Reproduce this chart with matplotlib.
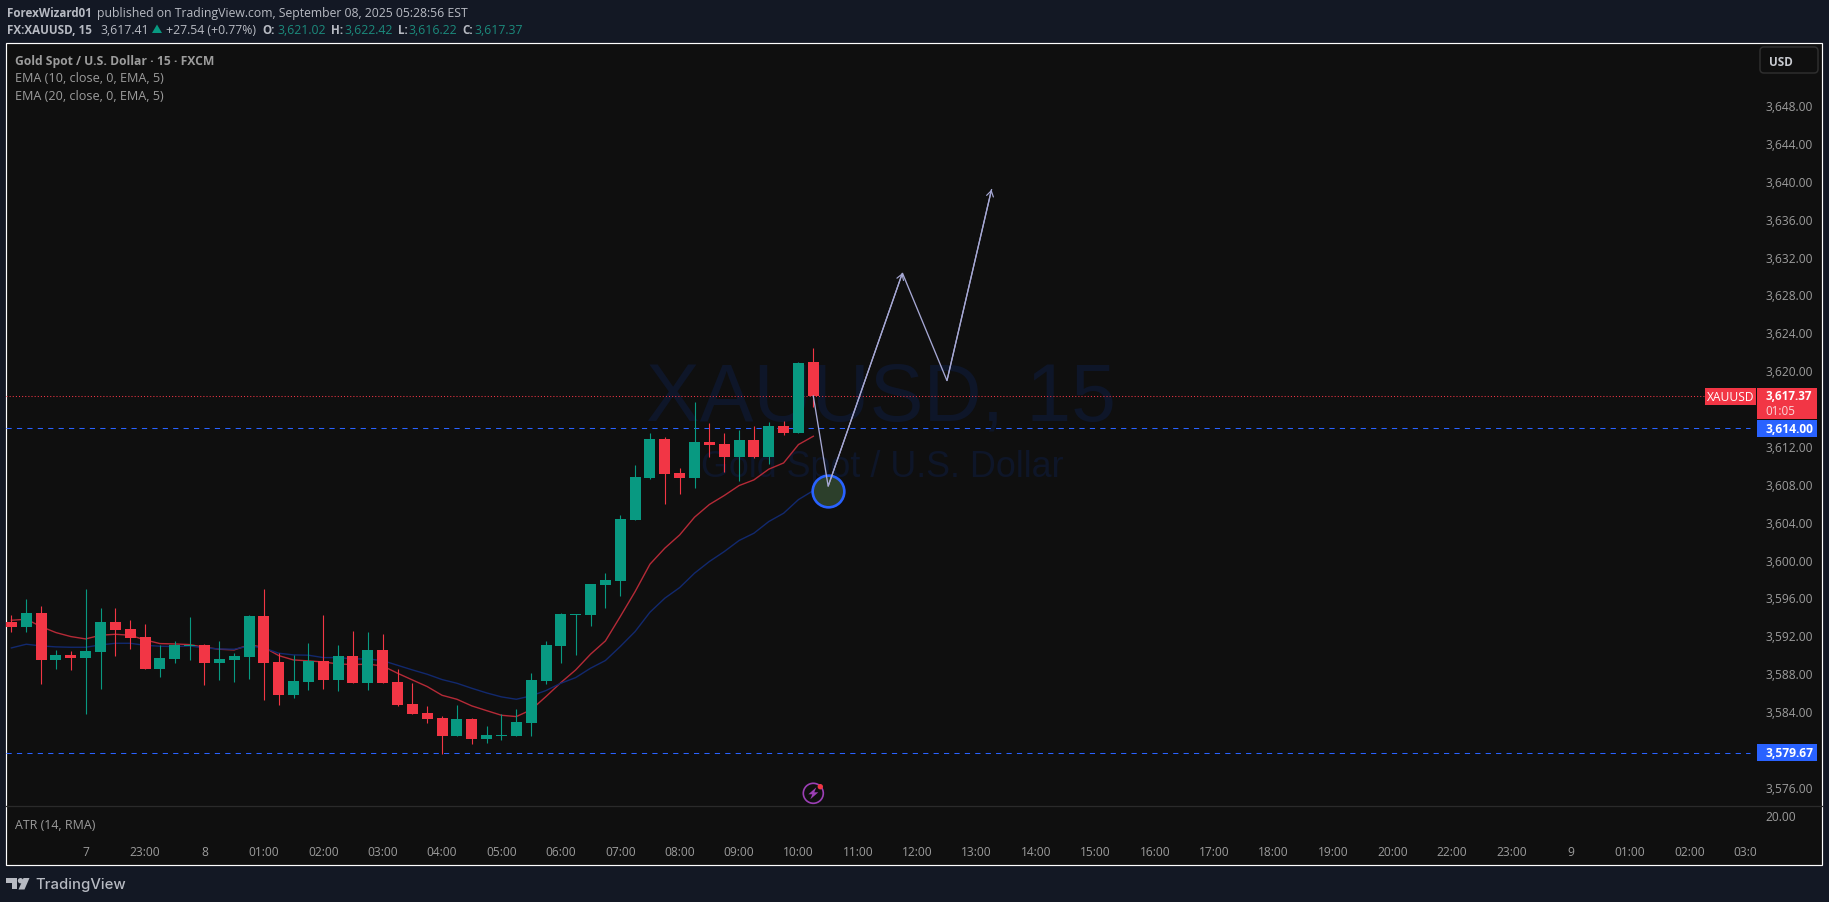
import numpy as np
from matplotlib import pyplot as plt
from matplotlib.patches import Rectangle, FancyBboxPatch, Circle, Polygon
from matplotlib.transforms import ScaledTranslation

W, H = 1829, 903

# candle data
opens = [3593.52, 3593.00, 3594.47, 3589.51, 3590.04, 3589.72, 3590.36, 3593.52, 3592.79, 3591.94,
         3588.56, 3589.62, 3590.99, 3591.10, 3589.20, 3589.51, 3589.83, 3594.16, 3589.30, 3585.82,
         3587.19, 3589.41, 3587.40, 3589.94, 3587.08, 3590.57, 3587.19, 3584.87, 3583.92, 3583.39,
         3581.49, 3583.28, 3581.17, 3581.49, 3581.49, 3582.87, 3587.30, 3591.00, 3594.27, 3594.27,
         3597.44, 3597.86, 3604.30, 3608.73, 3612.85, 3609.26, 3608.73, 3612.53, 3612.32, 3610.95,
         3612.74, 3610.95, 3614.22, 3613.48, 3621.02]
highs = [3594.26, 3595.95, 3595.21, 3590.57, 3590.46, 3597.01, 3595.00, 3595.00, 3593.74, 3593.31,
         3591.10, 3591.52, 3594.05, 3591.20, 3591.52, 3590.25, 3594.26, 3597.01, 3590.25, 3590.04,
         3591.31, 3594.26, 3591.10, 3592.57, 3592.47, 3592.26, 3588.56, 3587.08, 3584.66, 3583.60,
         3584.76, 3583.39, 3582.55, 3583.81, 3584.34, 3588.15, 3591.52, 3594.48, 3594.37, 3597.54,
         3598.70, 3604.83, 3610.10, 3613.48, 3613.06, 3609.79, 3616.75, 3614.54, 3613.48, 3613.80,
         3614.22, 3614.64, 3614.75, 3620.98, 3622.42]
lows = [3592.47, 3592.47, 3586.98, 3588.56, 3588.46, 3583.81, 3586.45, 3589.94, 3590.67, 3588.56,
        3587.72, 3589.20, 3589.51, 3586.87, 3587.40, 3587.19, 3587.51, 3585.29, 3584.76, 3585.50,
        3586.35, 3586.45, 3586.24, 3587.08, 3586.35, 3587.08, 3584.66, 3583.81, 3582.86, 3579.59,
        3581.49, 3580.65, 3580.75, 3581.07, 3581.49, 3581.49, 3586.98, 3589.20, 3590.05, 3593.11,
        3595.01, 3596.27, 3604.30, 3608.63, 3605.99, 3607.04, 3607.68, 3610.95, 3609.36, 3608.41,
        3610.84, 3610.21, 3613.27, 3613.48, 3616.22]
closes = [3593.00, 3594.47, 3589.51, 3590.04, 3589.72, 3590.46, 3593.52, 3592.68, 3591.84, 3588.56,
          3589.72, 3591.10, 3591.10, 3589.20, 3589.62, 3589.94, 3594.16, 3589.20, 3585.82, 3587.30,
          3589.41, 3587.40, 3589.94, 3587.08, 3590.57, 3587.08, 3584.76, 3583.81, 3583.28, 3581.49,
          3583.28, 3581.17, 3581.60, 3581.60, 3582.97, 3587.41, 3591.10, 3594.37, 3594.37, 3597.54,
          3597.96, 3604.40, 3608.84, 3612.85, 3609.15, 3608.73, 3612.53, 3612.22, 3610.95, 3612.74,
          3610.95, 3614.22, 3613.48, 3620.87, 3617.37]

ema10 = [3593.70, 3593.81, 3593.03, 3592.40, 3591.98, 3591.73, 3592.12, 3592.22, 3592.12, 3591.62,
         3591.24, 3591.20, 3591.13, 3590.85, 3590.64, 3590.57, 3591.10, 3590.85, 3589.97, 3589.51,
         3589.41, 3589.30, 3589.09, 3589.02, 3589.06, 3588.88, 3588.11, 3587.40, 3586.70, 3585.78,
         3585.36, 3584.66, 3584.16, 3583.67, 3583.53, 3584.25, 3585.65, 3587.12, 3588.46, 3590.12,
         3591.52, 3594.09, 3596.73, 3599.62, 3601.31, 3602.71, 3604.58, 3605.92, 3606.87, 3607.92,
         3608.52, 3609.65, 3610.31, 3612.25, 3613.13]
ema20 = [3590.78, 3591.17, 3590.99, 3590.89, 3590.85, 3590.85, 3591.10, 3591.27, 3591.27, 3591.06,
         3590.96, 3590.92, 3590.99, 3590.78, 3590.67, 3590.64, 3590.99, 3590.78, 3590.22, 3590.04,
         3590.01, 3589.76, 3589.76, 3589.62, 3589.62, 3589.44, 3588.95, 3588.46, 3588.00, 3587.44,
         3587.05, 3586.52, 3586.03, 3585.61, 3585.36, 3585.72, 3586.28, 3587.05, 3587.65, 3588.64,
         3589.45, 3590.93, 3592.51, 3594.55, 3596.03, 3597.15, 3598.67, 3599.90, 3600.95, 3602.12,
         3602.89, 3604.12, 3605.00, 3606.44, 3607.39]

# hand drawn projection on the chart
path_idx = [54, 55, 60, 63, 66]
path_price = [3617.38, 3607.85, 3630.36, 3619.00, 3639.16]
circle_idx = 55
circle_price = 3607.40

last_price = 3617.37
level_up = 3614.00
level_down = 3579.67

# 3,580 and 3,616 are covered by the level tags, the chart does not print them
price_ticks = [3576, 3584, 3588, 3592, 3596, 3600, 3604, 3608, 3612, 3620,
               3624, 3628, 3632, 3636, 3640, 3644, 3648]
time_idx = np.arange(5, 118, 4)
time_labels = ['7', '23:00', '8', '01:00', '02:00', '03:00', '04:00', '05:00', '06:00', '07:00',
               '08:00', '09:00', '10:00', '11:00', '12:00', '13:00', '14:00', '15:00', '16:00',
               '17:00', '18:00', '19:00', '20:00', '22:00', '23:00', '9', '01:00', '02:00', '03:00']

GREEN = '#089981'
RED = '#f23645'
BLUE = '#2962ff'
BG = '#131824'
PANE = '#0f0f0f'
GREY = '#9c9c9c'
FONT = 'Open Sans'

plt.rcParams['font.family'] = FONT


def pane_axes(x0, y0, x1, y1, z):
    # pixel box (y from the top) to an axes
    a = fig.add_axes([x0 / W, 1 - y1 / H, (x1 - x0) / W, (y1 - y0) / H], zorder=z)
    a.patch.set_visible(False)
    for s in a.spines.values():
        s.set_visible(False)
    return a


fig = plt.figure(figsize=(W / 100, H / 100), dpi=100, facecolor=BG)

# background layer in pixels: frame and watermark
back = pane_axes(0, 0, W, H, 0)
back.set_xlim(0, W)
back.set_ylim(H, 0)
back.axis('off')
back.add_patch(Rectangle((6, 43.5), 1816, 822.5, fc=PANE, ec='white', lw=0.85))
back.plot([6, 1822], [807, 807], color='#2a2a2a', lw=0.9)
back.text(881, 400, 'XAUUSD, 15', color='#0e1629', fontsize=58, family='Liberation Sans', ha='center', va='center')
back.text(882, 468, 'Gold Spot / U.S. Dollar', color='#0e1629', fontsize=25.8, family='Liberation Sans', ha='center', va='center')

# main price pane
ax = pane_axes(6, 43.5, 1756, 807, 1)
ax.set_xlim(-0.364, 117.48)
ax.set_ylim(3574.09, 3654.7)

x = np.arange(len(opens))
o = np.array(opens)
c = np.array(closes)
cols = [GREEN if c[i] >= o[i] else RED for i in x]

ax.plot(x, ema10, color='#b52a37', lw=1.0, zorder=2)
ax.plot(x, ema20, color='#12296e', lw=1.0, zorder=2)
ax.vlines(x, lows, highs, colors=cols, lw=0.8, zorder=3)
ax.bar(x, np.maximum(np.abs(c - o), 0.1), bottom=np.minimum(o, c), width=0.74, color=cols, lw=0, zorder=4)

ax.axhline(last_price, xmax=0.97, color=RED, lw=0.75, ls=(0, (1, 2)), zorder=1)
ax.axhline(level_up, xmax=0.9966, color=BLUE, lw=0.75, ls=(0, (5, 5)), zorder=1)
ax.axhline(level_down, xmax=0.9966, color=BLUE, lw=0.75, ls=(0, (5, 5)), zorder=1)

ax.scatter([circle_idx], [circle_price], s=520, facecolor='#2c3f2b', edgecolor=BLUE, lw=1.9, zorder=5)
ax.plot(path_idx, path_price, color='#a6a8d4', lw=0.95, zorder=6, solid_joinstyle='miter')
for k in [2, 4]:
    ax.annotate('', xy=(path_idx[k], path_price[k]), xytext=(path_idx[k - 1], path_price[k - 1]),
                arrowprops=dict(arrowstyle='->,head_length=0.4,head_width=0.25', color='#a6a8d4',
                                lw=0.85, shrinkA=0, shrinkB=0), zorder=6)

ax.yaxis.tick_right()
ax.set_yticks(price_ticks)
ax.set_yticklabels(['{:,.2f}'.format(p) for p in price_ticks])
ax.tick_params(axis='y', length=0, pad=6.5, labelcolor=GREY, labelsize=8.64)
ax.set_xticks([])
# price labels sit a pixel above their level in the reference
nudge = ScaledTranslation(0, 1 / 100, fig.dpi_scale_trans)
for lab in ax.get_yticklabels():
    lab.set_transform(lab.get_transform() + nudge)

# ATR pane with the time axis
atr = pane_axes(6, 807, 1756, 866, 1)
atr.set_xlim(-0.364, 117.48)
atr.set_ylim(-30.3, 28.7)
atr.yaxis.tick_right()
atr.set_yticks([20])
atr.set_yticklabels(['20.00'])
atr.tick_params(axis='y', length=0, pad=6.5, labelcolor=GREY, labelsize=8.64)
atr.set_xticks(time_idx)
atr.set_xticklabels(time_labels)
atr.tick_params(axis='x', length=0, pad=-14.6, labelcolor=GREY, labelsize=8.64)
for lab in atr.get_xticklabels():
    lab.set_clip_on(True)
    lab.set_clip_box(atr.bbox)

# overlay in pixels: header, legend, price tags, logo
top = pane_axes(0, 0, W, H, 3)
top.set_xlim(0, W)
top.set_ylim(H, 0)
top.axis('off')


def txt(px, py, s, color='#b7bac2', size=8.8, weight='normal', **kw):
    top.text(px, py, s, color=color, fontsize=size, fontweight=weight, va='center', **kw)


txt(7, 13.4, 'ForexWizard01', weight='bold', size=8.35)
txt(96.7, 13.4, 'published on TradingView.com, September 08, 2025 05:28:56 EST')
txt(7, 30.2, 'FX:XAUUSD, 15', weight='bold', size=8.35)
txt(100.7, 30.2, '3,617.41')
top.add_patch(Polygon([(152, 34), (162, 34), (157, 25.5)], fc=GREEN, lw=0))
txt(166, 30.2, '+27.54 (+0.77%)')
for lx, vx, lab, val in [(262.7, 277, 'O:', '3,621.02'), (330.7, 344.3, 'H:', '3,622.42'),
                         (398, 408.7, 'L:', '3,616.22'), (462, 474.3, 'C:', '3,617.37')]:
    txt(lx, 30.2, lab, weight='bold', size=8.35)
    txt(vx, 30.2, val, color='#1b8a7c')

txt(15.3, 61.5, 'Gold Spot / U.S. Dollar · 15 · FXCM', color=GREY, weight='bold', size=8.7)
txt(15.3, 78.5, 'EMA (10, close, 0, EMA, 5)', color=GREY, size=9.05)
txt(15.3, 96, 'EMA (20, close, 0, EMA, 5)', color=GREY, size=9.05)
txt(15.3, 825.5, 'ATR (14, RMA)', color=GREY, size=8.9)

top.add_patch(FancyBboxPatch((1760, 48), 58, 26, boxstyle='round,pad=0,rounding_size=4', fc=PANE, ec='#2e2e2e', lw=1.1))
txt(1769, 62, 'USD', color='#c8cad0', weight='bold', size=8.4)

# last price and level tags
top.add_patch(Rectangle((1705, 389), 51, 17, fc=RED, lw=0))
txt(1730.5, 397.5, 'XAUUSD', color='white', size=8.64, ha='center')
top.add_patch(Rectangle((1757, 389), 60, 31, fc=RED, lw=0))
txt(1765, 397, '3,617.37', color='white', size=8.4, weight='bold')
txt(1765, 411.5, '01:05', color='#fbd5d8', size=8.4)
top.add_patch(Rectangle((1757, 421), 60, 17, fc=BLUE, lw=0))
txt(1765, 429.5, '3,614.00', color='white', size=8.64, weight='bold')
top.add_patch(Rectangle((1757, 745), 60, 17, fc=BLUE, lw=0))
txt(1765, 753.5, '3,579.67', color='white', size=8.64, weight='bold')

# lightning icon
top.add_patch(Circle((813.3, 794.3), 10, fc='none', ec='#9c3fb5', lw=1.2))
top.add_patch(Polygon([(816.3, 788.3), (808.3, 795.3), (812.3, 795.3), (810.3, 800.3),
                       (818.3, 793.3), (814.3, 793.3)], fc='#9c3fb5', lw=0))
top.add_patch(Circle((820.3, 787.7), 2.7, fc=RED, lw=0))

# TradingView logo
logo = '#b7bac2'
top.add_patch(Polygon([(6, 879), (17, 879), (17, 890.5), (11.5, 890.5), (11.5, 884.5), (6, 884.5)], fc=logo, lw=0))
top.add_patch(Circle((20.5, 881.7), 2.7, fc=logo, lw=0))
top.add_patch(Polygon([(23.5, 879), (29.5, 879), (24.5, 890.5), (18.5, 890.5)], fc=logo, lw=0))
top.text(35, 885, 'TradingView', color=logo, fontsize=10.7, family='Inter', fontweight='medium', va='center')

plt.savefig('out.png', dpi=100, facecolor=BG)
